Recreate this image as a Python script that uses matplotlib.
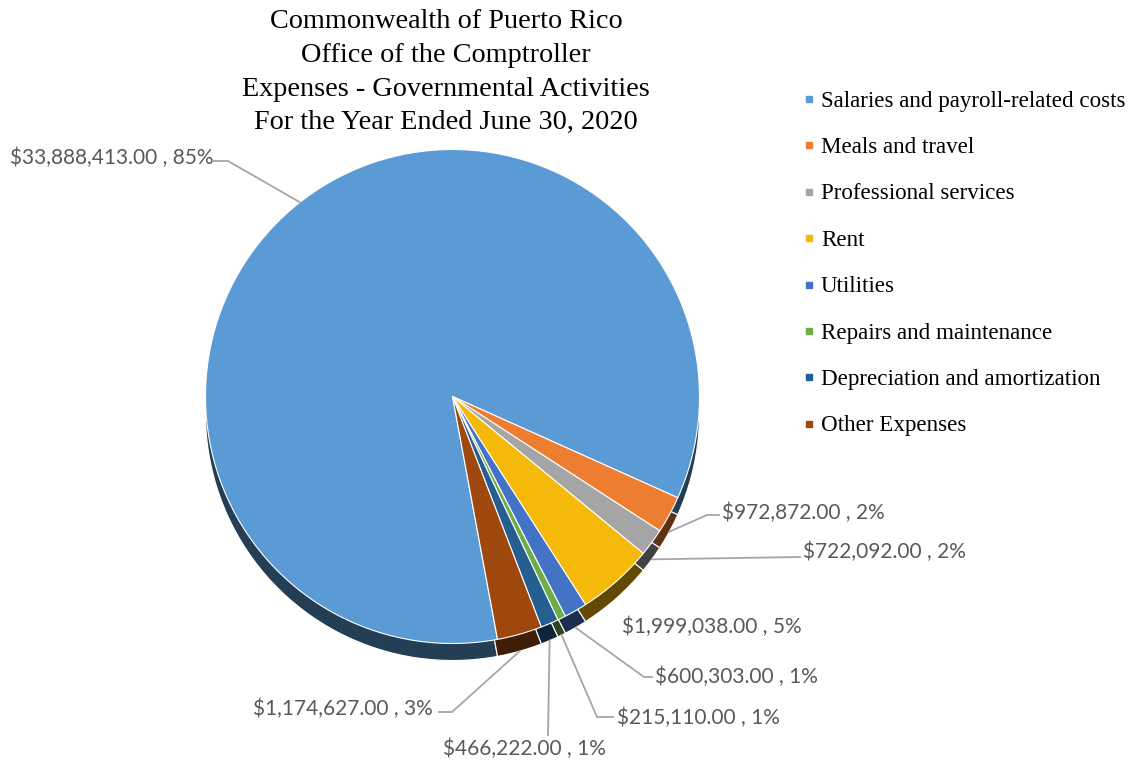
import matplotlib
matplotlib.use("Agg")
import matplotlib.pyplot as plt
import numpy as np
from matplotlib.colors import to_rgb

TITLE_LINES = [
    "Commonwealth of Puerto Rico",
    "Office of the Comptroller",
    "Expenses - Governmental Activities",
    "For the Year Ended June 30, 2020",
]
CATEGORIES = [
    "Salaries and payroll-related costs",
    "Meals and travel",
    "Professional services",
    "Rent",
    "Utilities",
    "Repairs and maintenance",
    "Depreciation and amortization",
    "Other Expenses",
]
AMOUNTS = [33888413.00, 972872.00, 722092.00, 1999038.00,
           600303.00, 215110.00, 466222.00, 1174627.00]
COLORS = ['#5b9bd5', '#ed7d31', '#a5a5a5', '#f5b90a',
          '#4472c4', '#70ad47', '#255e91', '#9e480e']

# layout (pixels, y measured from the top)
W, H = 1135, 763
CX, CY, R, DEPTH = 452.5, 396.5, 247, 17
START = 280.5
LABEL_XY = [(10, 158), (722, 513), (803, 552), (622, 627),
            (655, 677), (617, 718), (443, 749), (253, 709)]
LEADERS = [[(228, 161), (214, 161)], [(707, 515), (719, 515)], [(800, 557)], None,
           [(644, 677), (652, 677)], [(597, 717), (613, 717)], [(548, 735)],
           [(452, 712), (439, 712)]]

LABEL_FONT = 'Lato'
SERIF = 'Liberation Serif'


def py(y):
    return H - y


def darker(c, f=0.4):
    r, g, b = to_rgb(c)
    return (r * f, g * f, b * f)


fig = plt.figure(figsize=(W / 100, H / 100), dpi=100)
ax = fig.add_axes([0, 0, 1, 1])

# side of the 3d pie: a darker copy pushed down
ax.pie(AMOUNTS, colors=[darker(c) for c in COLORS], startangle=START, counterclock=False,
       radius=R, center=(CX, py(CY + DEPTH)), frame=True,
       wedgeprops=dict(edgecolor='white', linewidth=0.8))
# top face
ax.pie(AMOUNTS, colors=COLORS, startangle=START, counterclock=False,
       radius=R, center=(CX, py(CY)), frame=True,
       wedgeprops=dict(edgecolor='white', linewidth=0.8))

ax.set_xlim(0, W)
ax.set_ylim(0, H)
ax.set_aspect('equal')
ax.axis('off')

# data labels + leader lines
total = sum(AMOUNTS)
ang = START
for i, v in enumerate(AMOUNTS):
    sweep = v / total * 360
    mid = np.deg2rad(ang - sweep / 2)
    ang -= sweep
    lx, ly = LABEL_XY[i]
    txt = f"${v:,.2f} , {round(v / total * 100)}%"
    ax.text(lx, py(ly), txt, ha='left', va='center', fontsize=15,
            color='#595959', family=LABEL_FONT)
    if LEADERS[i] is None:
        continue
    axx = CX + R * np.cos(mid)
    ayy = CY - R * np.sin(mid) + (DEPTH if i > 0 else 0)
    pts = [(axx, ayy)] + LEADERS[i]
    ax.plot([p[0] for p in pts], [py(p[1]) for p in pts], color='#a6a6a6', lw=1.3)

# title
for k, line in enumerate(TITLE_LINES):
    ax.text(446, py(22 + k * 33.5), line, ha='center', va='center',
            fontsize=20.3, family=SERIF, color='black')

# legend
for k, (name, c) in enumerate(zip(CATEGORIES, COLORS)):
    y = 99 + k * 46.4
    ax.plot(809, py(y), marker='s', ms=5, color=c, mec=c)
    ax.text(821, py(y + 2), name, ha='left', va='center', fontsize=16.6,
            family=SERIF, color='black')

fig.savefig('out.png', dpi=100, facecolor='white')
